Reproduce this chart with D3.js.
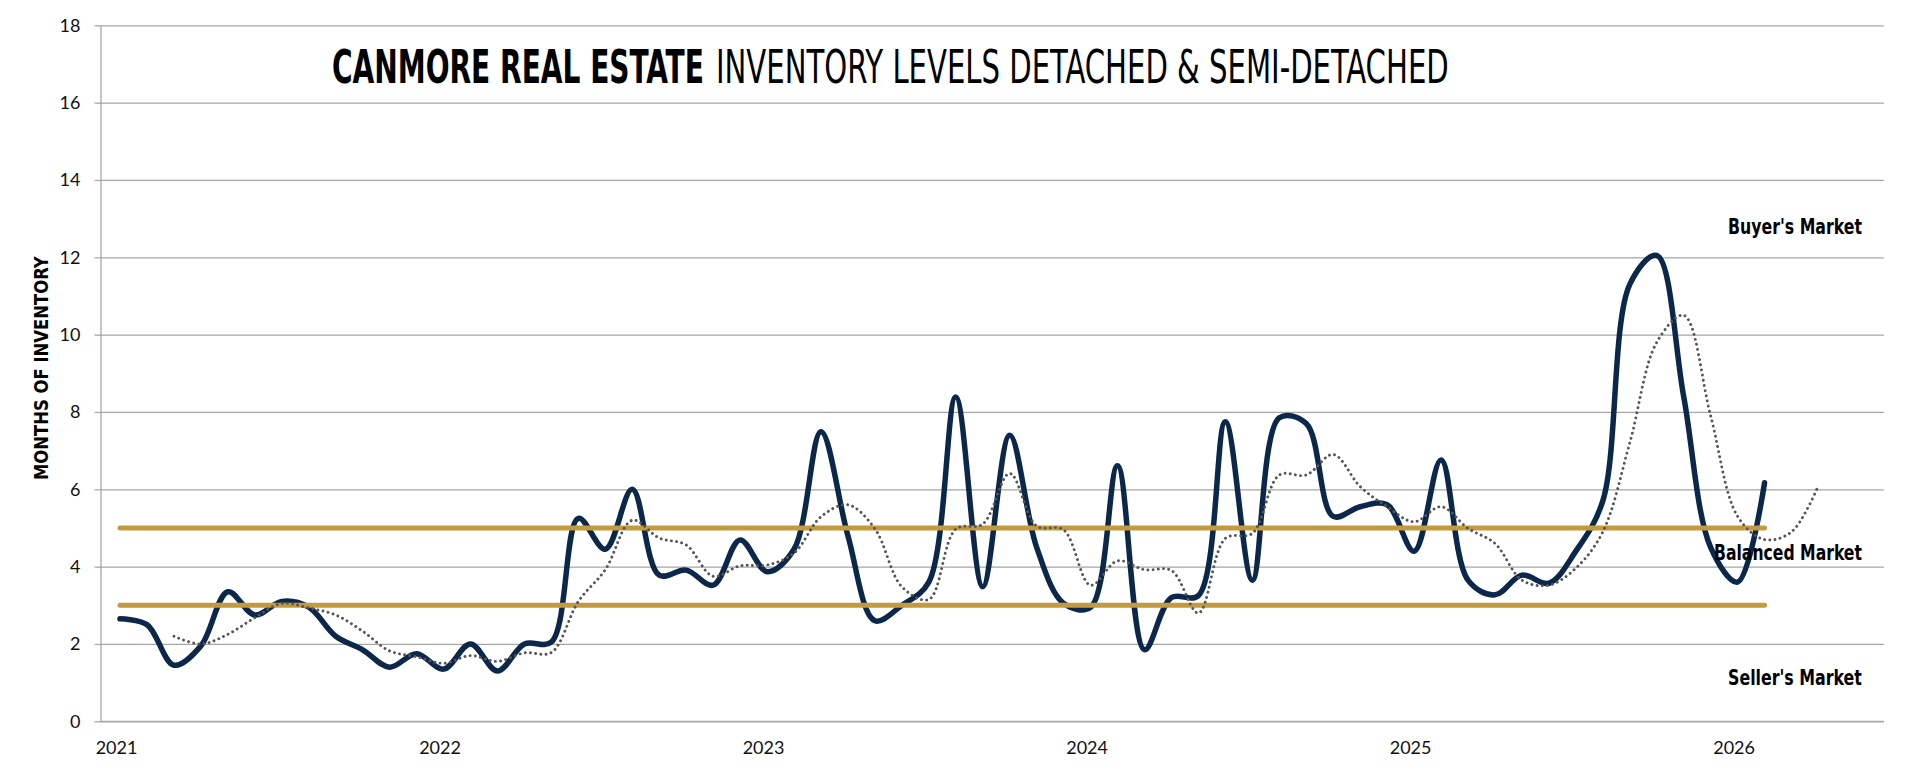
<!DOCTYPE html>
<html>
  <head>
    <title>Canmore inventory levels</title>
    <meta charset="utf-8">
    <style>
      body { margin: 0; background: #fff; }
      .grid line { stroke: #a6a6a6; stroke-width: 1.3px; }
      .grid path { display: none; }
      .axis path, .axis line { stroke: #a6a6a6; stroke-width: 1.3px; }
      .axis text { font-family: Lato, 'Open Sans', sans-serif; font-size: 18px; fill: #111; }
      .cond { font-family: 'Liberation Sans Narrow', 'DejaVu Sans Condensed', 'Liberation Sans', sans-serif; font-stretch: condensed; fill: #000; }
    </style>
  </head>
  <body>
    <div class="chart-container"></div>
    <script src="https://cdn.jsdelivr.net/npm/d3@7"></script>
    <script>

// monthly months of inventory, Jan 2021 .. Feb 2026
var inventory = [
  2.65, 2.5, 1.45, 1.95, 3.35, 2.75, 3.1, 2.95, 2.2, 1.85, 1.4, 1.75,
  1.35, 2.0, 1.3, 2.0, 2.05, 5.25, 4.45, 6.0, 3.78, 3.91, 3.52, 4.69,
  3.87, 4.45, 7.49, 4.8, 2.6, 3.0, 3.6, 8.39, 3.48, 7.4, 4.5, 3.05,
  2.95, 6.61, 1.85, 3.2, 3.25, 7.75, 3.65, 7.85, 7.7, 5.3, 5.55, 5.6,
  4.4, 6.76, 3.65, 3.27, 3.78, 3.57, 4.4, 5.7, 11.3, 12.05, 8.4, 4.5,
  3.6, 6.17
];

// dotted trend line, Mar 2021 .. Apr 2026
var trendStart = 2;
var trend = [
  2.2, 2.0, 2.25, 2.68, 3.05, 2.93, 2.75, 2.33, 1.82, 1.67,
  1.5, 1.7, 1.55, 1.77, 1.78, 3.1, 3.92, 5.2, 4.74, 4.56, 3.75, 4.02,
  4.04, 4.35, 5.29, 5.6, 4.98, 3.48, 3.15, 4.97, 5.1, 6.41, 5.05, 4.95,
  3.52, 4.15, 3.92, 3.9, 2.8, 4.73, 4.86, 6.37, 6.37, 6.9, 6.07, 5.55,
  5.16, 5.55, 4.99, 4.6, 3.65, 3.52, 3.96, 4.9, 7.2, 9.8, 10.5, 7.9,
  5.3, 4.7, 4.9, 6.1
];

var balancedLow = 3;
var balancedHigh = 5;

var yearLabels = ['2021', '2022', '2023', '2024', '2025', '2026'];
var yearTickIndex = [0, 12, 24, 36, 48, 60];
var yTicks = [0, 2, 4, 6, 8, 10, 12, 14, 16, 18];

var marketLabels = [
  { text: "Buyer's Market", y: 12.6, w: 134 },
  { text: 'Balanced Market', y: 4.17, w: 148 },
  { text: "Seller's Market", y: 0.95, w: 134 }
];

var width = 1920;
var height = 778;
var plotLeft = 101, plotRight = 1884, plotTop = 25.3, plotBottom = 721.3;

var x = d3.scaleLinear()
    .domain([-0.705, 65.43])
    .range([plotLeft, plotRight]);

var y = d3.scaleLinear()
    .domain([0, 18])
    .range([plotBottom, plotTop]);

var svg = d3.select('.chart-container').append('svg')
    .attr('width', width)
    .attr('height', height);

// squeeze a text horizontally to a given width (condensed look)
function fitText(sel, px, py, w, anchor, rotate) {
  var natural = sel.node().getComputedTextLength();
  var k = w / natural;
  var dx = anchor === 'end' ? -w : anchor === 'middle' ? -w / 2 : 0;
  sel.attr('x', 0).attr('y', 0)
    .attr('transform', 'translate(' + px + ',' + py + ')' +
      (rotate ? ' rotate(' + rotate + ')' : '') +
      ' translate(' + dx + ',0) scale(' + k + ',1)');
}

// gridlines
svg.append('g')
    .attr('class', 'grid')
    .attr('transform', 'translate(' + plotLeft + ',0)')
    .call(d3.axisLeft(y).tickValues(yTicks).tickSize(-(plotRight - plotLeft)).tickFormat(''));

// y axis
svg.append('g')
    .attr('class', 'axis')
    .attr('transform', 'translate(' + plotLeft + ',0)')
    .call(d3.axisLeft(y).tickValues(yTicks).tickSize(6.5).tickPadding(14))
    .call(function (g) { g.select('.domain').attr('d', 'M0,' + plotTop + 'V' + plotBottom); });

// x axis
var xAxis = svg.append('g')
    .attr('class', 'axis')
    .attr('transform', 'translate(0,' + plotBottom + ')')
    .call(d3.axisBottom(x)
      .tickValues(yearTickIndex)
      .tickSize(0)
      .tickPadding(20)
      .tickFormat(function (d, i) { return yearLabels[i]; }));
xAxis.select('.domain').attr('d', 'M' + plotLeft + ',0H' + plotRight);
xAxis.selectAll('text').attr('font-size', 17).attr('dx', -4);

var line = d3.line()
    .curve(d3.curveCatmullRom)
    .x(function (d) { return x(d.i); })
    .y(function (d) { return y(d.v); });

var solidData = inventory.map(function (v, i) { return { i: i, v: v }; });
var trendData = trend.map(function (v, i) { return { i: i + trendStart, v: v }; });

svg.append('path')
    .datum(solidData)
    .attr('d', line)
    .attr('fill', 'none')
    .attr('stroke', '#0b2749')
    .attr('stroke-width', 5.5)
    .attr('stroke-linejoin', 'round')
    .attr('stroke-linecap', 'round');

// balanced market band limits
[balancedHigh, balancedLow].forEach(function (level) {
  svg.append('line')
      .attr('x1', x(0))
      .attr('x2', x(inventory.length - 1))
      .attr('y1', y(level))
      .attr('y2', y(level))
      .attr('stroke', '#c49a3e')
      .attr('stroke-width', 5)
      .attr('stroke-linecap', 'round');
});

svg.append('path')
    .datum(trendData)
    .attr('d', line)
    .attr('fill', 'none')
    .attr('stroke', '#555')
    .attr('stroke-width', 2.9)
    .attr('stroke-dasharray', '0.01 5.2')
    .attr('stroke-linecap', 'round');

// market labels
marketLabels.forEach(function (d) {
  var t = svg.append('text')
      .attr('class', 'cond')
      .attr('font-size', 22)
      .attr('font-weight', 'bold')
      .text(d.text);
  fitText(t, 1862, y(d.y), d.w, 'end');
});

// y axis title
var yTitle = svg.append('text')
    .attr('class', 'cond')
    .attr('font-size', 19)
    .attr('font-weight', 'bold')
    .text('MONTHS OF INVENTORY');
fitText(yTitle, 48, 368, 224, 'middle', -90);

// title
var titleBold = svg.append('text')
    .attr('class', 'cond')
    .attr('font-size', 46)
    .attr('font-weight', 'bold')
    .text('CANMORE REAL ESTATE');
fitText(titleBold, 332, 83, 372, 'start');

var titleRest = svg.append('text')
    .attr('class', 'cond')
    .attr('font-size', 46)
    .text('INVENTORY LEVELS DETACHED & SEMI-DETACHED');
fitText(titleRest, 716, 83, 733, 'start');

    </script>
  </body>
</html>
